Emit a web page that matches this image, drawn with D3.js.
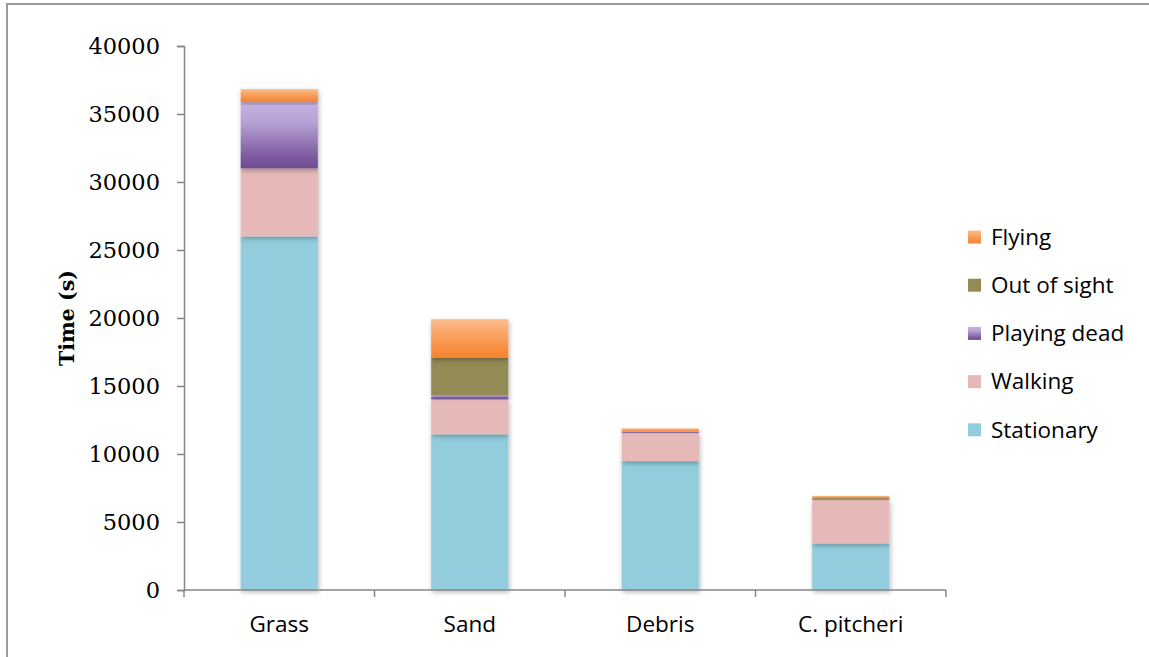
<!DOCTYPE html>
<html>
<head>
<meta charset="utf-8">
<script src="https://cdn.jsdelivr.net/npm/d3@7"></script>
<style>
  html, body { margin: 0; padding: 0; background: #fff; }
  svg { display: block; }
</style>
</head>
<body>
<svg id="chart" width="1149" height="657"></svg>
<script>
// Habitat categories along the x axis
const categories = ["Grass", "Sand", "Debris", "C. pitcheri"];

// Behaviour series, bottom of the stack first (seconds)
const seriesNames = ["Stationary", "Walking", "Playing dead", "Out of sight", "Flying"];
const stationary  = [26000, 11450, 9480, 3430];
const walking     = [5000, 2580, 2080, 3200];
const playingDead = [4880, 290, 80, 70];
const outOfSight  = [0, 2740, 20, 60];
const flying      = [950, 2850, 220, 150];

const yTicks = [0, 5000, 10000, 15000, 20000, 25000, 30000, 35000, 40000];

const seriesValues = [stationary, walking, playingDead, outOfSight, flying];
const rows = categories.map((c, i) => {
  const r = { category: c };
  seriesNames.forEach((s, k) => { r[s] = seriesValues[k][i]; });
  return r;
});

const svg = d3.select("#chart");
const defs = svg.append("defs");

// Fills: flat colours, or vertical gradients for the shaded series
const fills = {
  "Stationary":   { flat: "#93cddd" },
  "Walking":      { flat: "#e6b9b8" },
  "Playing dead": { grad: ["#c6b3e2", "#b7a2d6", "#7a569c", "#6f4d93"] },
  "Out of sight": { flat: "#948a54" },
  "Flying":       { grad: ["#fcbd8e", "#f9a96b", "#f6893a", "#f5832f"] }
};
function gradId(name) { return "g-" + name.replace(/\s+/g, "-").toLowerCase(); }
Object.entries(fills).forEach(([name, f]) => {
  if (!f.grad) return;
  const g = defs.append("linearGradient").attr("id", gradId(name))
    .attr("x1", 0).attr("y1", 0).attr("x2", 0).attr("y2", 1);
  [0, 0.3, 0.85, 1].forEach((o, i) => g.append("stop").attr("offset", o).attr("stop-color", f.grad[i]));
});
function fillOf(name) { return fills[name].grad ? `url(#${gradId(name)})` : fills[name].flat; }

// Soft shadow beneath each bar segment
const shadow = defs.append("filter").attr("id", "barShadow")
  .attr("x", "-20%").attr("y", "-20%").attr("width", "140%").attr("height", "140%");
shadow.append("feDropShadow").attr("dx", 1).attr("dy", 2).attr("stdDeviation", 2.5)
  .attr("flood-color", "#000").attr("flood-opacity", 0.3);

// Outer frame
svg.append("rect").attr("x", 7).attr("y", 4).attr("width", 1200).attr("height", 700)
  .attr("fill", "none").attr("stroke", "#9a9a9a").attr("stroke-width", 2);

const plot = { left: 184, right: 946, top: 46, bottom: 590 };

const x = d3.scaleBand().domain(categories).range([plot.left, plot.right]).paddingInner(0).paddingOuter(0);
const y = d3.scaleLinear().domain([0, 40000]).range([plot.bottom, plot.top]);
const barW = x.bandwidth() * 0.405;

const stack = d3.stack().keys(seriesNames)(rows);

const barsG = svg.append("g");
stack.forEach(layer => {
  const name = layer.key;
  barsG.append("g")
    .selectAll("rect")
    .data(layer.filter(d => d[1] - d[0] > 0))
    .join("rect")
    .attr("x", d => x(d.data.category) + (x.bandwidth() - barW) / 2)
    .attr("y", d => y(d[1]))
    .attr("width", barW)
    .attr("height", d => y(d[0]) - y(d[1]))
    .attr("fill", fillOf(name))
    .attr("filter", "url(#barShadow)");
});

const axisColor = "#868686";

// Y axis
const yAxis = svg.append("g").attr("transform", `translate(${plot.left},0)`)
  .call(d3.axisLeft(y).tickValues(yTicks).tickSize(7).tickPadding(17).tickFormat(d3.format("d")));
yAxis.select(".domain").attr("stroke", axisColor).attr("stroke-width", 1.5);
yAxis.selectAll(".tick line").attr("stroke", axisColor).attr("stroke-width", 1.5);
yAxis.selectAll(".tick text")
  .attr("font-family", "'DejaVu Serif', serif").attr("font-size", 22.5).attr("fill", "#000");

// X axis with ticks at category boundaries
const xAxisG = svg.append("g").attr("transform", `translate(0,${plot.bottom})`);
xAxisG.append("line").attr("x1", plot.left).attr("x2", plot.right)
  .attr("stroke", axisColor).attr("stroke-width", 1.5);
const boundaries = categories.map(c => x(c)).concat([x(categories[categories.length - 1]) + x.bandwidth()]);
xAxisG.selectAll("line.tk").data(boundaries).join("line").attr("class", "tk")
  .attr("x1", d => d).attr("x2", d => d).attr("y1", 0).attr("y2", 7)
  .attr("stroke", axisColor).attr("stroke-width", 1.5);
xAxisG.selectAll("text").data(categories).join("text")
  .attr("x", d => x(d) + x.bandwidth() / 2).attr("y", 42)
  .attr("text-anchor", "middle")
  .attr("font-family", "'Open Sans', sans-serif").attr("font-size", 22.5).attr("fill", "#000")
  .text(d => d);

// Y axis title
svg.append("text")
  .attr("transform", `translate(74,${(plot.top + plot.bottom) / 2}) rotate(-90)`)
  .attr("text-anchor", "middle")
  .attr("font-family", "'DejaVu Serif', serif").attr("font-weight", "bold").attr("font-size", 20.5)
  .text("Time (s)");

// Legend, top series first
const legend = svg.append("g").attr("transform", "translate(968,237)");
const legendItems = seriesNames.slice().reverse();
const li = legend.selectAll("g").data(legendItems).join("g")
  .attr("transform", (d, i) => `translate(0,${i * 48.2})`);
li.append("rect").attr("x", 0).attr("y", -6.5).attr("width", 13).attr("height", 13)
  .attr("fill", d => fillOf(d));
li.append("text").attr("x", 23).attr("y", 0).attr("dy", "0.35em")
  .attr("font-family", "'Open Sans', sans-serif").attr("font-size", 22.5).attr("fill", "#000")
  .text(d => d);
</script>
</body>
</html>
